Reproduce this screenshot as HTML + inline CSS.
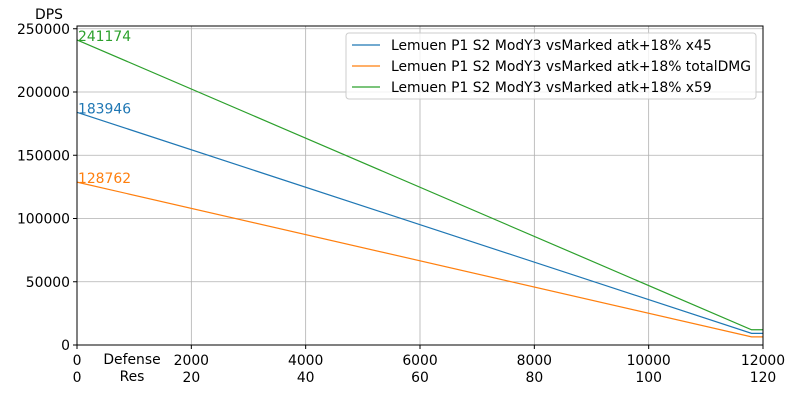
<!DOCTYPE html>
<html><head><meta charset="utf-8"><style>
body{margin:0;background:#fff}
svg{font-family:"DejaVu Sans","Liberation Sans",sans-serif}
</style></head><body>
<svg id="c" width="800" height="400"></svg>
<script>
const xDef=[0,11800,12000];
const seriesNames=["Lemuen P1 S2 ModY3 vsMarked atk+18% x45","Lemuen P1 S2 ModY3 vsMarked atk+18% totalDMG","Lemuen P1 S2 ModY3 vsMarked atk+18% x59"];
const blueVals=[183946,9197,9197];
const orangeVals=[128762,6438,6438];
const greenVals=[241174,12059,12059];
const startLabels=["183946","128762","241174"];
const xTicks=[0,2000,4000,6000,8000,10000,12000];
const xTicks2=["0","20","40","60","80","100","120"];
const yTicks=[0,50000,100000,150000,200000,250000];
const colors=["#1f77b4","#ff7f0e","#2ca02c"];
const L=77,R=763,T=26,B=345;
const FS=13.9;
const sx=v=>L+v*(R-L)/12000;
const sy=v=>B-v*0.001265;
const NS="http://www.w3.org/2000/svg";
const svg=document.getElementById('c');
function mk(t,a,txt){const e=document.createElementNS(NS,t);for(const k in a)e.setAttribute(k,a[k]);if(txt!==undefined)e.textContent=txt;svg.appendChild(e);return e;}
xTicks.forEach((v,i)=>{
 const g=mk('line',{x1:sx(v),x2:sx(v),y1:T,y2:B,stroke:'#b0b0b0','stroke-width':0.8});
 
 
 mk('line',{x1:sx(v),x2:sx(v),y1:B,y2:B+4,stroke:'#000'});
 const t=mk('text',{x:sx(v),y:365,'text-anchor':'middle','font-size':FS},String(v));
 
 
 const t2=mk('text',{x:sx(v),y:382,'text-anchor':'middle','font-size':FS},xTicks2[i]);
 
 
});
yTicks.forEach(v=>{
 const g=mk('line',{x1:L,x2:R,y1:sy(v),y2:sy(v),stroke:'#b0b0b0','stroke-width':0.8});
 
 
 mk('line',{x1:L-4,x2:L,y1:sy(v),y2:sy(v),stroke:'#000'});
 const t=mk('text',{x:L-7,y:sy(v)+5,'text-anchor':'end','font-size':FS},String(v));
 
 
});
const all=[blueVals,orangeVals,greenVals];
all.forEach((vals,i)=>{
 const p=mk('polyline',{points:xDef.map((x,j)=>sx(x)+','+sy(vals[j])).join(' '),fill:'none',stroke:colors[i],'stroke-width':1.2});
 
 
 const t=mk('text',{x:L+1,y:sy(vals[0])+1,'font-size':FS,fill:colors[i]},startLabels[i]);
 
 
});
const ax=mk('rect',{x:L,y:T,width:R-L,height:B-T,fill:'none',stroke:'#000','stroke-width':1});


const yt=mk('text',{x:49,y:19,'text-anchor':'middle','font-size':FS},'DPS');


const xt=mk('text',{x:132,y:364,'text-anchor':'middle','font-size':FS},'Defense');


const xt2=mk('text',{x:132,y:381,'text-anchor':'middle','font-size':FS},'Res');


const lg=mk('rect',{x:346,y:33,width:410,height:66,fill:'#fff','fill-opacity':0.8,stroke:'#ccc',rx:3});


[0,1,2].forEach(i=>{
 const y=45+i*21;
 mk('line',{x1:352,x2:380,y1:y,y2:y,stroke:colors[i],'stroke-width':1.2});
 const t=mk('text',{x:391,y:y+5,'font-size':FS},seriesNames[i]);
 
 
});
</script>
</body></html>
